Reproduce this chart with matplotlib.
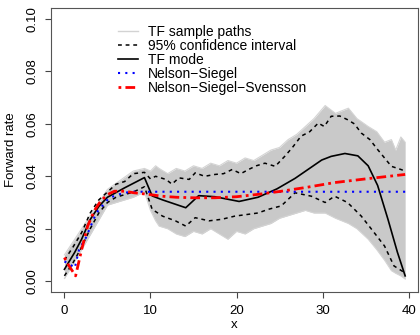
import matplotlib
matplotlib.use('Agg')
import matplotlib.pyplot as plt

plt.rcParams['font.family'] = ['Liberation Sans', 'DejaVu Sans']

# ---- data ----
# envelope of the TF sample paths
band_x = [0, 2, 5, 8, 9.3, 10, 10.6, 11, 12, 13, 14, 15, 16, 17, 18, 19, 20, 21, 22, 23, 24, 25, 26,
          27, 28, 29, 30.3, 31.5, 33, 34, 35.3, 36.3, 37.2, 38, 38.5, 39.1, 39.6]
band_hi = [0.010, 0.020, 0.035, 0.042, 0.043, 0.042, 0.044, 0.043, 0.041, 0.043, 0.042, 0.044,
           0.043, 0.045, 0.044, 0.046, 0.045, 0.047, 0.046, 0.048, 0.050, 0.051, 0.054, 0.056,
           0.059, 0.062, 0.067, 0.064, 0.066, 0.062, 0.059, 0.057, 0.053, 0.054, 0.050, 0.055, 0.053]
band_lo = [0.001, 0.012, 0.029, 0.032, 0.034, 0.027, 0.023, 0.021, 0.020, 0.018, 0.017, 0.019,
           0.018, 0.020, 0.018, 0.016, 0.019, 0.018, 0.020, 0.021, 0.022, 0.024, 0.025, 0.026,
           0.027, 0.026, 0.026, 0.024, 0.022, 0.020, 0.016, 0.012, 0.008, 0.004, 0.003, 0.002, 0.0008]

# 95% confidence interval
ci_up_x = [0, 1, 2, 3, 4, 5, 6, 7, 8, 9.3, 10, 10.6, 11.8, 12.5, 13.3, 14.5, 15.2, 16.3, 17.5, 18.5,
           19.5, 20.5, 21.4, 22.3, 23.3, 24.5, 25.6, 26.5, 27.5, 28.5, 29.5, 30.2, 31, 32, 32.9, 33.7,
           34.5, 35.5, 36.4, 37.2, 38, 39.1, 39.6]
ci_up = [0.008, 0.013, 0.0185, 0.026, 0.031, 0.034, 0.037, 0.038, 0.041, 0.0415, 0.039, 0.040,
         0.0388, 0.037, 0.0394, 0.0388, 0.0413, 0.040, 0.0407, 0.041, 0.0426, 0.041, 0.0426, 0.044,
         0.045, 0.0438, 0.0476, 0.051, 0.0553, 0.057, 0.0603, 0.059, 0.0629, 0.063, 0.0616, 0.060,
         0.0565, 0.054, 0.0502, 0.047, 0.0438, 0.0426, 0.042]
ci_lo_x = [0, 1, 2, 3, 4, 5, 6, 7, 8, 9.3, 10.2, 11.4, 12.9, 14.1, 15.2, 16.8, 18.3, 19.8, 21.4,
           22.5, 23.7, 25.2, 26.8, 28.7, 30.3, 31.4, 32.9, 34.5, 36, 37.2, 38.3, 39.5]
ci_lo = [0.002, 0.007, 0.013, 0.020, 0.026, 0.030, 0.032, 0.033, 0.034, 0.036, 0.0274, 0.0248,
         0.023, 0.021, 0.0242, 0.023, 0.0236, 0.0248, 0.0255, 0.026, 0.0274, 0.0287, 0.0337,
         0.0324, 0.030, 0.0324, 0.030, 0.0248, 0.0185, 0.0134, 0.0058, 0.0033]

# TF mode
mode_x = [0, 1.2, 2, 3, 4, 5, 7, 9.3, 10.2, 11.4, 14.1, 15.6, 17.5, 20.3, 22.5, 24.7, 26.8, 29.9,
          31, 32.6, 34.1, 35.3, 36.4, 37.6, 38.7, 39.6]
mode_y = [0.0045, 0.011, 0.016, 0.0235, 0.0285, 0.032, 0.0356, 0.0395, 0.0325, 0.031, 0.028,
          0.0326, 0.0322, 0.0304, 0.032, 0.0352, 0.0392, 0.0462, 0.0476, 0.0487, 0.0478, 0.044,
          0.0365, 0.0236, 0.011, 0.002]

# Nelson-Siegel
ns_x = [0, 0.6, 1.2, 1.7, 2.5, 3.7, 5.2, 6.9, 8, 39.6]
ns_y = [0.0075, 0.0065, 0.005, 0.012, 0.0166, 0.026, 0.0318, 0.0337, 0.0341, 0.0341]

# Nelson-Siegel-Svensson
nss_x = [0, 0.5, 1.3, 2, 2.7, 3.5, 4.2, 5, 5.8, 7, 8.1, 10, 11.3, 13, 15, 17.5, 20, 22.5, 25, 28,
         31.4, 35, 39.6]
nss_y = [0.009, 0.006, 0.002, 0.012, 0.021, 0.027, 0.0305, 0.033, 0.0343, 0.0343, 0.0337, 0.033,
         0.0324, 0.032, 0.0318, 0.0318, 0.0322, 0.0331, 0.0342, 0.0357, 0.0376, 0.039, 0.0407]

xticks = [0, 10, 20, 30, 40]
yticks = [0.00, 0.02, 0.04, 0.06, 0.08, 0.10]

fig = plt.figure(figsize=(4.2, 3.35), dpi=100)
ax = fig.add_axes([0.121, 0.128, 0.874, 0.848])

ax.fill_between(band_x, band_lo, band_hi, color='#c9c9c9', lw=0)
ax.plot(band_x, band_hi, color='#d4d4d4', lw=0.8)
ax.plot(band_x, band_lo, color='#d4d4d4', lw=0.8)
ax.plot([], [], color='#d3d3d3', lw=1, label='TF sample paths')

ax.plot(ci_up_x, ci_up, color='black', lw=1.1, linestyle=(0, (2.5, 2.5)), label='95% confidence interval')
ax.plot(ci_lo_x, ci_lo, color='black', lw=1.1, linestyle=(0, (2.5, 2.5)))
ax.plot(mode_x, mode_y, color='black', lw=1.2, label='TF mode')
ax.plot(ns_x, ns_y, color='#0000ff', lw=1.5, linestyle=(0, (1, 2.5)), label='Nelson\u2212Siegel')
ax.plot(nss_x, nss_y, color='#ff0000', lw=2, linestyle=(0, (1, 1.5, 3.5, 1.5)),
        label='Nelson\u2212Siegel\u2212Svensson')

ax.set_xlim(-1.58, 41.08)
ax.set_ylim(-0.0042, 0.1042)
ax.set_xticks(xticks)
ax.set_xticklabels([str(t) for t in xticks], fontsize=9.5)
ax.set_yticks(yticks)
ax.set_yticklabels(['%.2f' % t for t in yticks], fontsize=9.5, rotation=90, va='center')
ax.tick_params(direction='out', length=4, width=0.8, pad=5, colors='#444444', labelcolor='black')
for s in ax.spines.values():
    s.set_color('#555555')
    s.set_linewidth(0.8)

ax.set_xlabel('x', fontsize=9.5, labelpad=2)
ax.set_ylabel('Forward rate', fontsize=9.5, labelpad=7)

leg = ax.legend(loc='upper left', bbox_to_anchor=(118 / 420, 1 - 25 / 335),
                bbox_transform=fig.transFigure, frameon=False, fontsize=10,
                handlelength=1.45, handletextpad=0.7, labelspacing=0.0, borderpad=0,
                borderaxespad=0)

fig.savefig('out.png', dpi=100)
